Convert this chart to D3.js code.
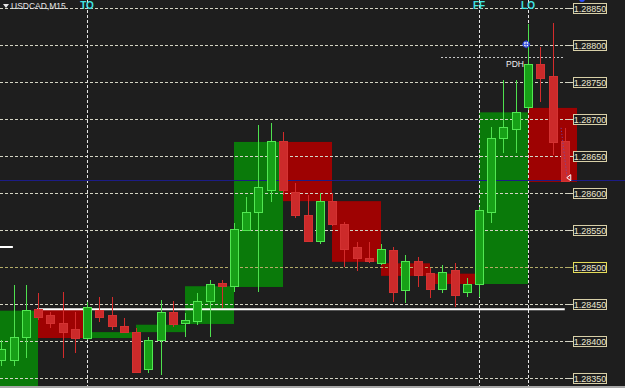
<!DOCTYPE html>
<html>
<head>
<meta charset="utf-8">
<script src="https://cdn.jsdelivr.net/npm/d3@7"></script>
<style>
  body { margin: 0; background: #1e1e1e; }
  svg { display: block; }
</style>
</head>
<body>
<div id="chart"></div>
<script>
// USDCAD M15 candles, index -1 .. 46 (index -1 is off-screen, only its open is used by the H1 box)
const firstIndex = -1;
const opens  = [1.28339, 1.28374, 1.28374, 1.28405, 1.28442, 1.28434, 1.28424, 1.28416, 1.28404, 1.28441,
                1.28434, 1.28419, 1.28412, 1.28361, 1.28401, 1.28439, 1.28423, 1.28427, 1.28453, 1.28478,
                1.28473, 1.28550, 1.28574, 1.28603, 1.28669, 1.28601, 1.28569, 1.28534, 1.28589, 1.28558,
                1.28526, 1.28511, 1.28505, 1.28522, 1.28468, 1.28507, 1.28491, 1.28470, 1.28495, 1.28465,
                1.28477, 1.28574, 1.28673, 1.28686, 1.28715, 1.28774, 1.28758, 1.28669];
const highs  = [1.28380, 1.28401, 1.28476, 1.28476, 1.28465, 1.28439, 1.28466, 1.28439, 1.28453, 1.28459,
                1.28459, 1.28431, 1.28418, 1.28405, 1.28455, 1.28454, 1.28438, 1.28465, 1.28482, 1.28482,
                1.28559, 1.28595, 1.28692, 1.28695, 1.28682, 1.28614, 1.28597, 1.28600, 1.28600, 1.28561,
                1.28534, 1.28534, 1.28531, 1.28527, 1.28516, 1.28514, 1.28499, 1.28503, 1.28505, 1.28485,
                1.28581, 1.28689, 1.28753, 1.28753, 1.28828, 1.28797, 1.28830, 1.28688];
const lows   = [1.28330, 1.28366, 1.28366, 1.28377, 1.28428, 1.28418, 1.28377, 1.28384, 1.28401, 1.28426,
                1.28415, 1.28411, 1.28357, 1.28357, 1.28354, 1.28419, 1.28405, 1.28422, 1.28405, 1.28445,
                1.28466, 1.28550, 1.28466, 1.28588, 1.28597, 1.28566, 1.28534, 1.28531, 1.28555, 1.28500,
                1.28495, 1.28505, 1.28503, 1.28453, 1.28451, 1.28473, 1.28458, 1.28465, 1.28446, 1.28459,
                1.28459, 1.28559, 1.28654, 1.28654, 1.28712, 1.28723, 1.28651, 1.28615];
const closes = [1.28374, 1.28388, 1.28405, 1.28441, 1.28432, 1.28424, 1.28412, 1.28404, 1.28445, 1.28432,
                1.28420, 1.28412, 1.28358, 1.28401, 1.28439, 1.28422, 1.28428, 1.28453, 1.28476, 1.28474,
                1.28551, 1.28574, 1.28607, 1.28669, 1.28604, 1.28569, 1.28535, 1.28589, 1.28558, 1.28524,
                1.28511, 1.28507, 1.28523, 1.28466, 1.28508, 1.28488, 1.28469, 1.28493, 1.28462, 1.28477,
                1.28576, 1.28674, 1.28688, 1.28709, 1.28773, 1.28755, 1.28668, 1.28615];

const priceTicks = [1.28350, 1.28400, 1.28450, 1.28500, 1.28550, 1.28600, 1.28650, 1.28700, 1.28750, 1.28800, 1.28850];
const roundLevel = 1.28500;

// session lines
const sessions = [{ name: "TO", index: 7 }, { name: "FF", index: 39 }, { name: "LO", index: 43 }];

// levels drawn on the chart
const bidPrice = 1.28618;
const whiteLevel = { price: 1.28443, from: 2.92, to: 46 };
const leftStub = { price: 1.28527, from: -0.2, to: 0.95 };
const pdh = { price: 1.28784, from: 35.9, to: 46 };
const highMark = { index: 42.85, price: 1.28801 };
const trendDots = [{ index: 45.7, price: 1.28688 }, { index: 46.2, price: 1.28620 }];

const W = 625, H = 388;
const plotRight = 565, plotBottom = 386;

const candles = opens.map((o, k) => ({
  i: k + firstIndex, o: o, h: highs[k], l: lows[k], c: closes[k]
}));

const x = d3.scaleLinear().domain([0, 46]).range([1.25, 564.75]);
const y = d3.scaleLinear().domain([1.28350, 1.28850]).range([378, 8]);

const svg = d3.select("#chart").append("svg")
  .attr("width", W).attr("height", H)
  .style("font-family", "'Liberation Sans', Arial, sans-serif");

svg.append("rect").attr("width", W).attr("height", H).attr("fill", "#1e1e1e");

// H1 boxes built from groups of 4 candles
const hours = [];
for (let s = firstIndex; s <= 46; s += 4) {
  const first = candles.find(d => d.i === s);
  const last = candles.find(d => d.i === s + 3);
  hours.push({ s: s, o: first.o, c: last.c });
}
svg.append("g").selectAll("rect").data(hours).join("rect")
  .attr("x", d => x(d.s))
  .attr("width", d => x(d.s + 4) - x(d.s))
  .attr("y", d => y(Math.max(d.o, d.c)))
  .attr("height", d => Math.abs(y(d.o) - y(d.c)))
  .attr("fill", d => d.c >= d.o ? "#0a7a0a" : "#9e0202");

// horizontal grid levels
const grid = svg.append("g");
grid.selectAll("line.dash").data(priceTicks).join("line")
  .attr("x1", 0).attr("x2", plotRight)
  .attr("y1", d => Math.round(y(d)) + 0.5).attr("y2", d => Math.round(y(d)) + 0.5)
  .attr("stroke", d => d === roundLevel ? "#b4ac68" : "#d4d4c4")
  .attr("stroke-dasharray", "3,2");
grid.selectAll("line.solid").data(priceTicks).join("line")
  .attr("x1", plotRight).attr("x2", 573)
  .attr("y1", d => Math.round(y(d)) + 0.5).attr("y2", d => Math.round(y(d)) + 0.5)
  .attr("stroke", d => d === roundLevel ? "#b4ac68" : "#d4d4c4");

// vertical session lines
svg.append("g").selectAll("line").data(sessions).join("line")
  .attr("x1", d => Math.round(x(d.index)) + 0.5).attr("x2", d => Math.round(x(d.index)) + 0.5)
  .attr("y1", 0).attr("y2", plotBottom)
  .attr("stroke", "#e6e6e6").attr("stroke-dasharray", "3,2");

svg.append("g").selectAll("text").data(sessions).join("text")
  .attr("x", d => x(d.index)).attr("y", 9)
  .attr("text-anchor", "middle")
  .attr("font-size", 10).attr("font-weight", "bold")
  .attr("fill", "#40e4e4")
  .text(d => d.name);

// bid line
svg.append("line")
  .attr("x1", 0).attr("x2", W)
  .attr("y1", Math.round(y(bidPrice)) + 0.5).attr("y2", Math.round(y(bidPrice)) + 0.5)
  .attr("stroke", "#1c1c86").attr("stroke-width", 1.2);

// white level lines
[whiteLevel, leftStub].forEach(l => {
  svg.append("line")
    .attr("x1", Math.max(0, x(l.from))).attr("x2", x(l.to))
    .attr("y1", y(l.price)).attr("y2", y(l.price))
    .attr("stroke", "#ffffff").attr("stroke-width", 2);
});

// PDH
svg.append("line")
  .attr("x1", x(pdh.from)).attr("x2", x(pdh.to))
  .attr("y1", Math.round(y(pdh.price)) + 0.5).attr("y2", Math.round(y(pdh.price)) + 0.5)
  .attr("stroke", "#c8c8c8").attr("stroke-dasharray", "2,2");
svg.append("text")
  .attr("x", x(43) - 4).attr("y", y(pdh.price) + 10)
  .attr("text-anchor", "end").attr("font-size", 8.5).attr("fill", "#f0f0f0")
  .text("PDH");

// candles
const cg = svg.append("g").attr("shape-rendering", "crispEdges");
const up = d => d.c >= d.o;
cg.selectAll("line").data(candles).join("line")
  .attr("x1", d => Math.round(x(d.i)) + 0.5).attr("x2", d => Math.round(x(d.i)) + 0.5)
  .attr("y1", d => y(d.h)).attr("y2", d => y(d.l))
  .attr("stroke", d => up(d) ? "#4ee04e" : "#d42c2c");
cg.selectAll("rect").data(candles).join("rect")
  .attr("x", d => Math.round(x(d.i)) - 3.5)
  .attr("width", 8)
  .attr("y", d => y(Math.max(d.o, d.c)))
  .attr("height", d => Math.max(1, Math.abs(y(d.o) - y(d.c))))
  .attr("fill", d => up(d) ? "#17a017" : "#cc2a2a")
  .attr("stroke", d => up(d) ? "#52e852" : "#d43232");

// dotted trend inside last candles
svg.append("line")
  .attr("x1", x(trendDots[0].index)).attr("y1", y(trendDots[0].price))
  .attr("x2", x(trendDots[1].index)).attr("y2", y(trendDots[1].price))
  .attr("stroke", "#6a48b8").attr("stroke-dasharray", "1,2");

// high marker
const hm = svg.append("g").attr("transform", `translate(${x(highMark.index)},${y(highMark.price)})`);
hm.append("circle").attr("r", 3).attr("fill", "#ffffff").attr("stroke", "#2b44d8").attr("stroke-width", 1.2);
hm.append("path").attr("d", "M-4,0H4M0,-4V4").attr("stroke", "#2b44d8").attr("stroke-width", 1);

// bid arrow
svg.append("path")
  .attr("d", `M${x(46) + 6},${y(bidPrice) - 5}L${x(46) + 2},${y(bidPrice) - 2}L${x(46) + 6},${y(bidPrice) + 1}Z`)
  .attr("fill", "none").attr("stroke", "#ffffff");

// top-right blue marker (cut off)
svg.append("circle").attr("cx", 582).attr("cy", -1).attr("r", 3).attr("fill", "#2a4cff");

// price labels
const lab = svg.append("g").selectAll("g").data(priceTicks).join("g")
  .attr("transform", d => `translate(573,${Math.round(y(d))})`);
lab.append("rect")
  .attr("x", 0.5).attr("y", -4.5).attr("width", 33).attr("height", 10)
  .attr("fill", "#1e1e1e")
  .attr("stroke", d => d === roundLevel ? "#e4dc58" : "#d8d0a8");
lab.append("text")
  .attr("x", 17).attr("y", 4)
  .attr("text-anchor", "middle").attr("font-size", 9)
  .attr("fill", "#ece8d0")
  .text(d => d.toFixed(5));

// title
svg.append("path").attr("d", "M3,4H9L6,8Z").attr("fill", "#e8e8e8");
svg.append("text").attr("x", 11).attr("y", 9)
  .attr("font-size", 8.5).attr("fill", "#e8e8e8")
  .text("USDCAD,M15");

// bottom border
svg.append("rect").attr("x", 0).attr("y", plotBottom).attr("width", W).attr("height", H - plotBottom)
  .attr("fill", "#a8a8a8");
</script>
</body>
</html>
